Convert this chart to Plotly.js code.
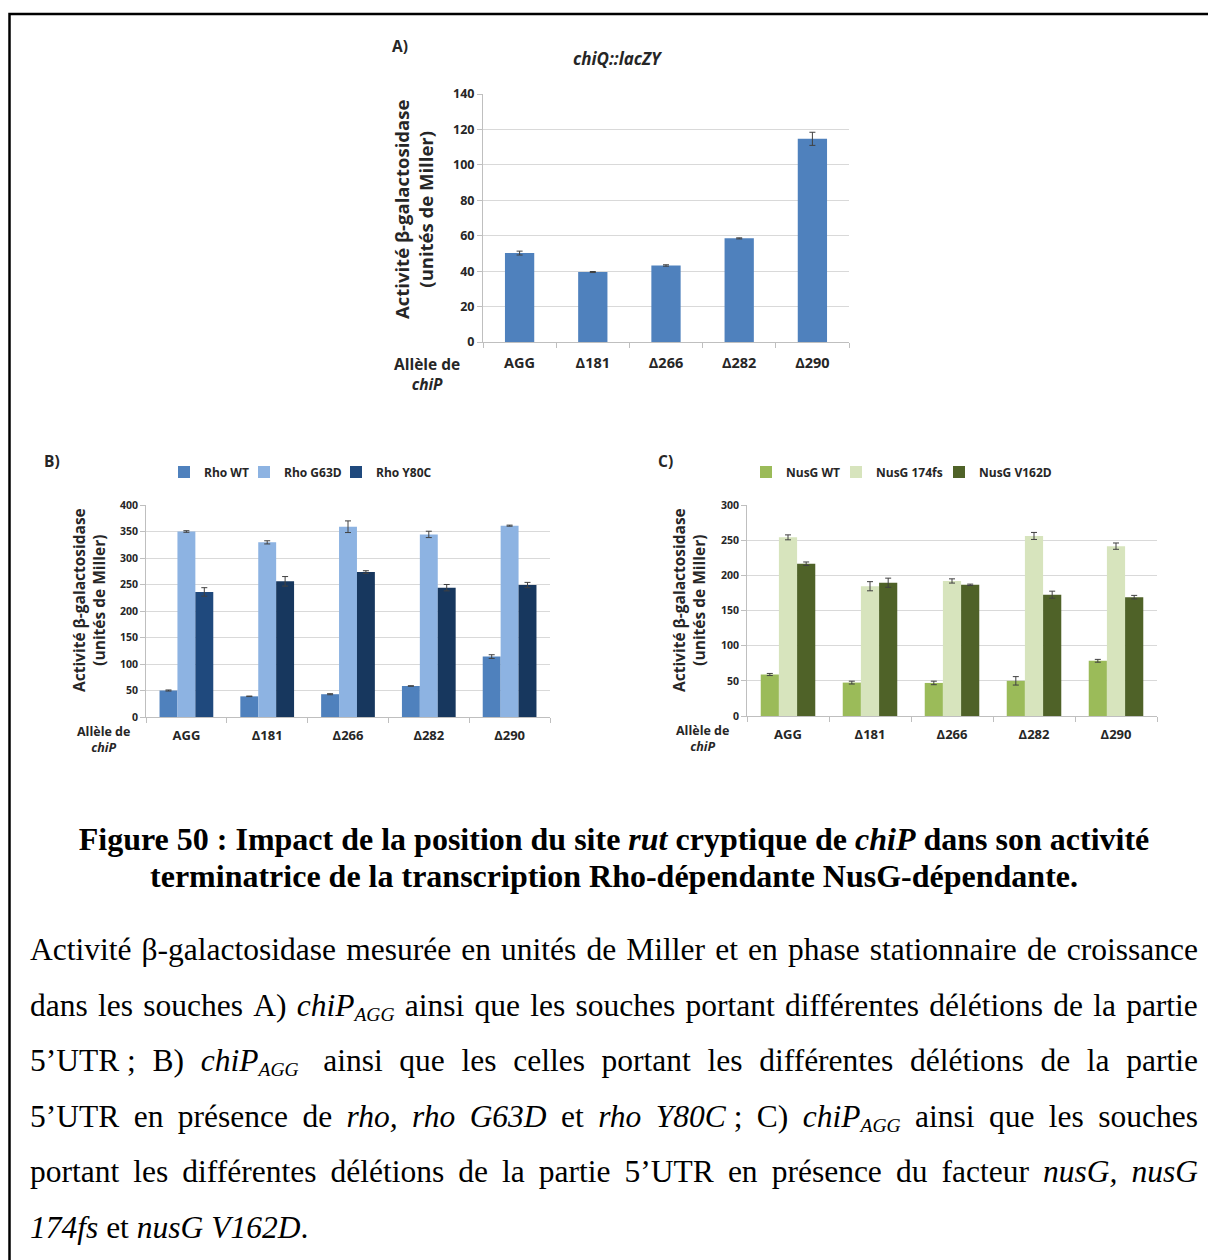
<!DOCTYPE html>
<html>
<head>
<meta charset="utf-8">
<script src="https://cdn.plot.ly/plotly-3.0.1.min.js"></script>
<style>
  body { margin:0; background:#fff; }
  #wrap { position:relative; width:1208px; height:1260px; overflow:hidden; }
  #chart { position:absolute; left:0; top:0; width:1208px; height:1260px; }
  .cap { position:absolute; left:0; width:1208px; font-family:"Liberation Serif","Times New Roman",serif; color:#000; pointer-events:none; }
  .ttl { left:10px; font-weight:bold; font-size:32px; line-height:37px; text-align:center; }
  .ln { position:absolute; left:30px; width:1168px; font-size:31.5px; line-height:55.5px; display:flex; justify-content:space-between; white-space:nowrap; }
  .ln.last { justify-content:flex-start; gap:0.25em; }
  sub { font-size:0.62em; vertical-align:-0.28em; line-height:0; }
</style>
</head>
<body>
<div id="wrap">
  <div id="chart"></div>
  <div id="caption"></div>
</div>
<script>
// ---------- data ----------
const categories = ['AGG', 'Δ181', 'Δ266', 'Δ282', 'Δ290'];

// Panel A : chiQ::lacZY
const aValues = [50.2, 39.5, 43.2, 58.5, 114.7];
const aErrors = [1.1, 0.3, 0.4, 0.3, 3.7];

// Panel B : Rho alleles
const rhoWT      = [50, 39, 43, 58.5, 114];
const rhoWTErr   = [1, 0.5, 1, 0.5, 3.5];
const rhoG63D    = [350, 329.5, 359, 344.5, 361];
const rhoG63DErr = [1.5, 3, 11, 6, 1];
const rhoY80C    = [236, 256, 273.5, 244, 249];
const rhoY80CErr = [8, 9, 2.5, 6, 5];

// Panel C : NusG alleles
const nusWT       = [59, 47.5, 47, 50, 78.5];
const nusWTErr    = [1.5, 2, 2.5, 6, 2];
const nus174fs    = [254, 184.5, 192, 256, 241.5];
const nus174fsErr = [3.5, 6.5, 3, 5, 4.5];
const nusV162D    = [216.5, 189.5, 186.5, 172.5, 169];
const nusV162DErr = [2.5, 6.5, 1, 5, 2.5];

// ---------- helpers (page pixels -> paper coords) ----------
const W = 1208, H = 1260;
const px = x => x / W;
const py = y => 1 - y / H;

const FONT = '"Open Sans", "Noto Sans", sans-serif';
const TXT = '#262626';
const errStyle = { type: 'data', visible: true, color: '#404040', thickness: 1, width: 3 };

function bar(name, y, err, color, xa, ya, extra) {
  return Object.assign({
    type: 'bar', name: name, x: categories, y: y,
    xaxis: xa, yaxis: ya,
    marker: { color: color, line: { width: 0 } },
    error_y: Object.assign({ array: err }, errStyle),
    hoverinfo: 'skip'
  }, extra || {});
}

const data = [
  bar('chiQ::lacZY', aValues, aErrors, '#4F81BD', 'x', 'y', { width: 0.4, showlegend: false }),
  bar('Rho WT', rhoWT, rhoWTErr, '#4F81BD', 'x2', 'y2', { legend: 'legend' }),
  bar('Rho G63D', rhoG63D, rhoG63DErr, '#8DB3E2', 'x2', 'y2', { legend: 'legend2' }),
  bar('Rho Y80C', rhoY80C, rhoY80CErr, ['#1F497D', '#17375E', '#17375E', '#17375E', '#17375E'], 'x2', 'y2', { legend: 'legend3' }),
  bar('NusG WT', nusWT, nusWTErr, '#9BBB59', 'x3', 'y3', { legend: 'legend4' }),
  bar('NusG 174fs', nus174fs, nus174fsErr, '#D7E4BD', 'x3', 'y3', { legend: 'legend5' }),
  bar('NusG V162D', nusV162D, nusV162DErr, '#4F6228', 'x3', 'y3', { legend: 'legend6' })
];

function xAxis(domain, anchor, size, standoff) {
  return {
    domain: domain, anchor: anchor, type: 'category',
    showline: true, linecolor: '#BFBFBF', linewidth: 1,
    ticks: 'outside', tickson: 'boundaries', ticklen: 5, tickcolor: '#BFBFBF',
    showgrid: false, zeroline: false, fixedrange: true,
    ticklabelstandoff: standoff,
    tickfont: { family: FONT, size: size, color: TXT, weight: 'bold' }
  };
}
function yAxis(domain, anchor, range, dtick, size) {
  return {
    domain: domain, anchor: anchor, range: range, dtick: dtick,
    showline: true, linecolor: '#BFBFBF', linewidth: 1,
    ticks: 'outside', ticklen: 5, tickcolor: '#BFBFBF',
    showgrid: true, gridcolor: '#D9D9D9', gridwidth: 1,
    zeroline: false, fixedrange: true,
    tickfont: { family: FONT, size: size, color: TXT, weight: 'bold' }
  };
}
// legend placed by where its text should start (symbol sits ~20px left of the text)
function legendAt(textStartX) {
  return {
    orientation: 'h', x: px(textStartX - 40), xanchor: 'left', y: py(472), yanchor: 'middle',
    font: { family: FONT, size: 12, color: TXT, weight: 'bold' },
    bgcolor: 'rgba(0,0,0,0)', itemclick: false, itemdoubleclick: false
  };
}

function ann(text, x, y, size, extra) {
  return Object.assign({
    text: text, x: px(x), y: py(y), xref: 'paper', yref: 'paper',
    showarrow: false, xanchor: 'center', yanchor: 'middle',
    font: { family: FONT, size: size, color: TXT }
  }, extra || {});
}

const yTitle = '<b>Activité β-galactosidase<br>(unités de Miller)</b>';
const allele = '<b>Allèle de<br><i>chiP</i></b>';

const layout = {
  width: W, height: H,
  margin: { l: 0, r: 0, t: 0, b: 0 },
  paper_bgcolor: '#fff', plot_bgcolor: '#fff',
  barmode: 'group', bargap: 0.335, bargroupgap: 0,
  showlegend: true,
  xaxis:  xAxis([px(483), px(849)], 'y', 14.5, 8),
  yaxis:  yAxis([py(342), py(94)], 'x', [0, 140], 20, 12.5),
  xaxis2: xAxis([px(146), px(550)], 'y2', 13, 6),
  yaxis2: yAxis([py(717), py(505)], 'x2', [0, 400], 50, 10.5),
  xaxis3: xAxis([px(747), px(1157)], 'y3', 13, 6),
  yaxis3: yAxis([py(716), py(505)], 'x3', [0, 300], 50, 10.5),
  legend:  legendAt(204),
  legend2: legendAt(284),
  legend3: legendAt(376),
  legend4: legendAt(786),
  legend5: legendAt(876),
  legend6: legendAt(979),
  annotations: [
    ann('<b>A)</b>', 400, 46, 15.5),
    ann('<b><i>chiQ::lacZY</i></b>', 618, 58, 17),
    ann(yTitle, 414, 209, 18.5, { textangle: -90 }),
    ann(allele, 427, 374, 15.5),
    ann('<b>B)</b>', 52, 461, 15.5),
    ann(yTitle, 89, 600, 15.5, { textangle: -90 }),
    ann(allele, 103, 739, 12.5),
    ann('<b>C)</b>', 665, 461, 15.5),
    ann(yTitle, 689, 600, 15.5, { textangle: -90 }),
    ann(allele, 702, 738, 12.5)
  ],
  shapes: [
    { type: 'rect', xref: 'paper', yref: 'paper', x0: px(9.5), x1: 1.02, y0: py(14), y1: -0.02,
      line: { color: '#000', width: 2.5 }, fillcolor: 'rgba(0,0,0,0)' }
  ]
};

Plotly.newPlot('chart', data, layout, { displayModeBar: false, staticPlot: true });

// ---------- caption ----------
const captionTitle = [
  'Figure 50 : Impact de la position du site <i>rut</i> cryptique de <i>chiP</i> dans son activité',
  'terminatrice de la transcription Rho-dépendante NusG-dépendante.'
];
const AGG = '<i>chiP<sub>AGG</sub></i>';
const captionLines = [
  ['Activité', 'β-galactosidase', 'mesurée', 'en', 'unités', 'de', 'Miller', 'et', 'en', 'phase', 'stationnaire', 'de', 'croissance'],
  ['dans', 'les', 'souches', 'A)', AGG, 'ainsi', 'que', 'les', 'souches', 'portant', 'différentes', 'délétions', 'de', 'la', 'partie'],
  ['5’UTR&nbsp;;', 'B)', AGG + '&nbsp;', 'ainsi', 'que', 'les', 'celles', 'portant', 'les', 'différentes', 'délétions', 'de', 'la', 'partie'],
  ['5’UTR', 'en', 'présence', 'de', '<i>rho,</i>', '<i>rho</i>', '<i>G63D</i>', 'et', '<i>rho</i>', '<i>Y80C</i>&nbsp;;', 'C)', AGG, 'ainsi', 'que', 'les', 'souches'],
  ['portant', 'les', 'différentes', 'délétions', 'de', 'la', 'partie', '5’UTR', 'en', 'présence', 'du', 'facteur', '<i>nusG,</i>', '<i>nusG</i>'],
  ['<i>174fs</i>', 'et', '<i>nusG</i>', '<i>V162D</i>.']
];

const cap = document.getElementById('caption');
let html = '<div class="cap ttl" style="top:821px">' + captionTitle[0] + '<br>' + captionTitle[1] + '</div>';
captionLines.forEach((words, i) => {
  const last = i === captionLines.length - 1;
  html += '<div class="cap ln' + (last ? ' last' : '') + '" style="top:' + (922 + i * 55.5) + 'px">' +
    words.map(w => '<span>' + w + '</span>').join('') + '</div>';
});
cap.innerHTML = html;
</script>
</body>
</html>
